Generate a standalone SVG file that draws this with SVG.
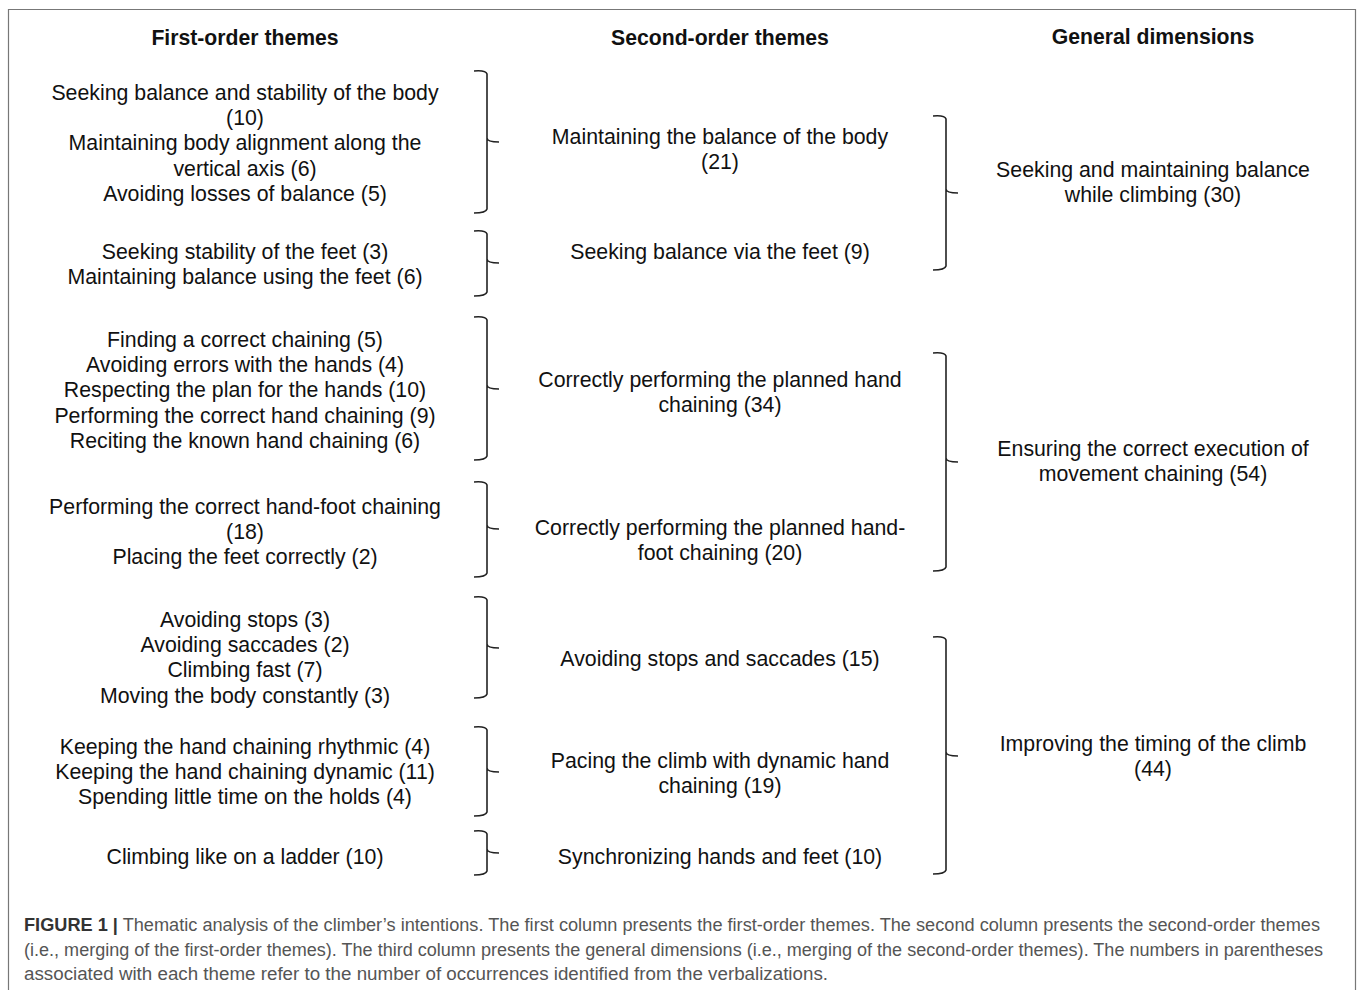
<svg xmlns="http://www.w3.org/2000/svg" width="1357" height="990" viewBox="0 0 1357 990">
<style>
.t{font-family:"Liberation Sans",Arial,sans-serif;font-size:21.3px;fill:#111;text-anchor:middle}
.h{font-family:"Liberation Sans",Arial,sans-serif;font-size:21.2px;font-weight:bold;fill:#111;text-anchor:middle}
.c{font-family:"Liberation Sans",Arial,sans-serif;font-size:17.5px;fill:#555}
.b{fill:none;stroke:#222;stroke-width:1.6;stroke-linejoin:miter}
</style>
<rect width="1357" height="990" fill="#fff"/>
<path d="M8.5,995 V9.5 H1355.5 V995" fill="none" stroke="#777" stroke-width="1.2"/>
<g id="headers">
<text class="h" x="245" y="45">First-order themes</text>
<text class="h" x="720" y="45">Second-order themes</text>
<text class="h" x="1153" y="44">General dimensions</text>
</g>
<g id="first-order">
<g id="f1"><text class="t" x="245" y="100">Seeking balance and stability of the body</text><text class="t" x="245" y="125">(10)</text><text class="t" x="245" y="150">Maintaining body alignment along the</text><text class="t" x="245" y="176">vertical axis (6)</text><text class="t" x="245" y="201">Avoiding losses of balance (5)</text></g>
<g id="f2"><text class="t" x="245" y="259">Seeking stability of the feet (3)</text><text class="t" x="245" y="284">Maintaining balance using the feet (6)</text></g>
<g id="f3"><text class="t" x="245" y="347">Finding a correct chaining (5)</text><text class="t" x="245" y="372">Avoiding errors with the hands (4)</text><text class="t" x="245" y="397">Respecting the plan for the hands (10)</text><text class="t" x="245" y="423">Performing the correct hand chaining (9)</text><text class="t" x="245" y="448">Reciting the known hand chaining (6)</text></g>
<g id="f4"><text class="t" x="245" y="514">Performing the correct hand-foot chaining</text><text class="t" x="245" y="539">(18)</text><text class="t" x="245" y="564">Placing the feet correctly (2)</text></g>
<g id="f5"><text class="t" x="245" y="627">Avoiding stops (3)</text><text class="t" x="245" y="652">Avoiding saccades (2)</text><text class="t" x="245" y="677">Climbing fast (7)</text><text class="t" x="245" y="703">Moving the body constantly (3)</text></g>
<g id="f6"><text class="t" x="245" y="754">Keeping the hand chaining rhythmic (4)</text><text class="t" x="245" y="779">Keeping the hand chaining dynamic (11)</text><text class="t" x="245" y="804">Spending little time on the holds (4)</text></g>
<g id="f7"><text class="t" x="245" y="864">Climbing like on a ladder (10)</text></g>
</g>
<g id="second-order">
<g id="s1"><text class="t" x="720" y="144">Maintaining the balance of the body</text><text class="t" x="720" y="169">(21)</text></g>
<g id="s2"><text class="t" x="720" y="259">Seeking balance via the feet (9)</text></g>
<g id="s3"><text class="t" x="720" y="387">Correctly performing the planned hand</text><text class="t" x="720" y="412">chaining (34)</text></g>
<g id="s4"><text class="t" x="720" y="535">Correctly performing the planned hand-</text><text class="t" x="720" y="560">foot chaining (20)</text></g>
<g id="s5"><text class="t" x="720" y="666">Avoiding stops and saccades (15)</text></g>
<g id="s6"><text class="t" x="720" y="768">Pacing the climb with dynamic hand</text><text class="t" x="720" y="793">chaining (19)</text></g>
<g id="s7"><text class="t" x="720" y="864">Synchronizing hands and feet (10)</text></g>
</g>
<g id="dimensions">
<g id="d1"><text class="t" x="1153" y="177">Seeking and maintaining balance</text><text class="t" x="1153" y="202">while climbing (30)</text></g>
<g id="d2"><text class="t" x="1153" y="456">Ensuring the correct execution of</text><text class="t" x="1153" y="481">movement chaining (54)</text></g>
<g id="d3"><text class="t" x="1153" y="751">Improving the timing of the climb</text><text class="t" x="1153" y="776">(44)</text></g>
</g>
<g id="connectors">
<path class="b" d="M474,71 Q486,70 487,74 V138 Q487,142 499,142 M487,138 V209 Q486,213 474,213"/>
<path class="b" d="M474,231 Q486,230 487,234 V259 Q487,263 499,263 M487,259 V292 Q486,296 474,296"/>
<path class="b" d="M474,317 Q486,316 487,320 V385 Q487,389 499,389 M487,385 V456 Q486,460 474,460"/>
<path class="b" d="M474,482 Q486,481 487,485 V525 Q487,529 499,529 M487,525 V573 Q486,577 474,577"/>
<path class="b" d="M474,597 Q486,596 487,600 V644 Q487,648 499,648 M487,644 V694 Q486,698 474,698"/>
<path class="b" d="M474,727 Q486,726 487,730 V768 Q487,772 499,772 M487,768 V812 Q486,816 474,816"/>
<path class="b" d="M474,831 Q486,830 487,834 V849 Q487,853 499,853 M487,849 V871 Q486,875 474,875"/>
<path class="b" d="M933,116 Q945,115 946,119 V189 Q946,193 958,193 M946,189 V266 Q945,270 933,270"/>
<path class="b" d="M933,353 Q945,352 946,356 V458 Q946,462 958,462 M946,458 V567 Q945,571 933,571"/>
<path class="b" d="M933,637 Q945,636 946,640 V752 Q946,756 958,756 M946,752 V870 Q945,874 933,874"/>
</g>
<g id="caption">
<text class="c" x="24" y="931" textLength="1296" lengthAdjust="spacingAndGlyphs"><tspan font-weight="bold" fill="#333">FIGURE 1 |</tspan> Thematic analysis of the climber’s intentions. The first column presents the first-order themes. The second column presents the second-order themes</text>
<text class="c" x="24" y="956" textLength="1299" lengthAdjust="spacingAndGlyphs">(i.e., merging of the first-order themes). The third column presents the general dimensions (i.e., merging of the second-order themes). The numbers in parentheses</text>
<text class="c" x="24" y="980" textLength="804" lengthAdjust="spacingAndGlyphs">associated with each theme refer to the number of occurrences identified from the verbalizations.</text>
</g>
</svg>
